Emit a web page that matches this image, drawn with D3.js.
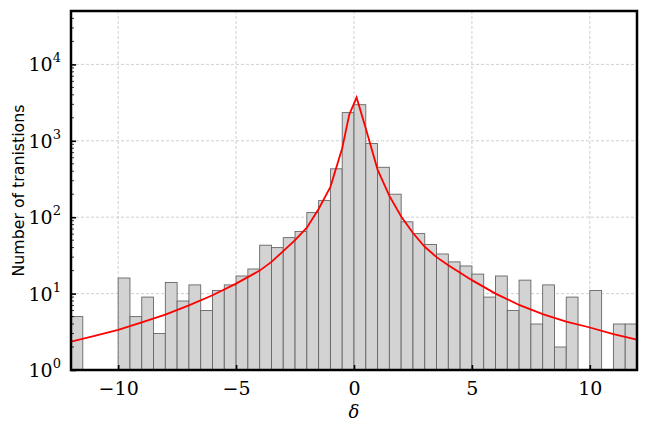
<!DOCTYPE html>
<html>
<head>
<meta charset="utf-8">
<script src="https://cdn.jsdelivr.net/npm/d3@7"></script>
<style>
  body { margin: 0; background: #fff; }
  svg { display: block; }
  .serif { font-family: "DejaVu Serif", serif; }
</style>
</head>
<body>
<svg id="chart"></svg>
<script>
// histogram bins (left edges, width 0.5) and counts
var binEdges = d3.range(-12, 12, 0.5);
var counts = [
  5, 0, 0, 0, 16, 5, 9, 3, 14, 8, 13, 6, 11, 13, 17, 21,
  43, 40, 54, 65, 115, 165, 430, 2340, 2970, 920, 450, 200,
  87, 61, 44, 33, 26, 23, 18, 9, 17, 6, 15, 4, 13, 2, 9, 0, 11, 0, 4, 4
];
// fitted curve
var fitX = [-12, -11, -10, -9, -8, -7, -6, -5, -4, -3.5, -3, -2.5, -2, -1.5, -1, -0.5, -0.2, 0.11,
  0.5, 1, 1.5, 2, 2.5, 3, 3.5, 4, 5, 6, 7, 8, 9, 10, 11, 12];
var fitY = [2.35, 2.8, 3.35, 4.2, 5.3, 7.0, 9.5, 13.5, 20, 26, 36, 50, 73, 128, 250, 800, 2200, 3700,
  1450, 420, 190, 102, 62, 41, 30, 23.5, 15, 10, 7.1, 5.4, 4.3, 3.6, 2.95, 2.5];
var xTicks = [-10, -5, 0, 5, 10];
var yTicks = [1, 10, 100, 1000, 10000];

var W = 648, H = 432;
var margin = { left: 71, right: 11, top: 11, bottom: 62 },
  width = W - margin.left - margin.right,
  height = H - margin.top - margin.bottom;

var svg = d3.select("#chart").attr("width", W).attr("height", H);

var x = d3.scaleLinear().domain([-12, 12]).range([0, width]);
var y = d3.scaleLog().domain([1, 5e4]).range([height, 0]);

svg.append("defs").append("clipPath").attr("id", "clip")
  .append("rect").attr("width", width).attr("height", height);

var g = svg.append("g").attr("transform", `translate(${margin.left},${margin.top})`);

// grid
g.append("g").selectAll("line").data(xTicks).enter().append("line")
  .attr("x1", d => x(d)).attr("x2", d => x(d))
  .attr("y1", 0).attr("y2", height)
  .attr("stroke", "#c4c4c4").attr("stroke-width", 0.8)
  .attr("stroke-dasharray", "3,2");
g.append("g").selectAll("line").data(yTicks.slice(1)).enter().append("line")
  .attr("x1", 0).attr("x2", width)
  .attr("y1", d => y(d)).attr("y2", d => y(d))
  .attr("stroke", "#c4c4c4").attr("stroke-width", 0.8)
  .attr("stroke-dasharray", "3,2");

// bars
var bins = binEdges.map((e, i) => ({ x0: e, x1: e + 0.5, n: counts[i] }))
  .filter(d => d.n > 0);
g.append("g").attr("clip-path", "url(#clip)")
  .selectAll("rect").data(bins).enter().append("rect")
  .attr("x", d => x(d.x0))
  .attr("width", d => x(d.x1) - x(d.x0))
  .attr("y", d => y(d.n))
  .attr("height", d => y(1) - y(d.n))
  .attr("fill", "#d3d3d3")
  .attr("stroke", "#666")
  .attr("stroke-width", 0.9);

// fit line
var line = d3.line().x(d => x(d[0])).y(d => y(d[1]));
g.append("path").attr("clip-path", "url(#clip)")
  .datum(fitX.map((v, i) => [v, fitY[i]]))
  .attr("d", line)
  .attr("fill", "none")
  .attr("stroke", "#ff0000")
  .attr("stroke-width", 1.8);

// x axis (ticks inward)
var xAxis = g.append("g").attr("transform", `translate(0,${height})`)
  .call(d3.axisBottom(x).tickValues(xTicks).tickSize(-5).tickPadding(12).tickFormat(d3.format("d")));
xAxis.attr("font-family", null).attr("font-size", null);
xAxis.select(".domain").remove();
xAxis.selectAll(".tick line").attr("stroke", "#000").attr("stroke-width", 1.6);
xAxis.selectAll(".tick text")
  .attr("class", "serif")
  .attr("font-size", 19).attr("fill", "#000");

// y axis minor ticks
var minor = [];
for (var p = 0; p < 5; p++) for (var k = 2; k <= 9; k++) {
  if (k * Math.pow(10, p) < 5e4) minor.push(k * Math.pow(10, p));
}
g.append("g").selectAll("line").data(minor).enter().append("line")
  .attr("x1", 0).attr("x2", 3)
  .attr("y1", d => y(d)).attr("y2", d => y(d))
  .attr("stroke", "#000").attr("stroke-width", 0.8);

// y axis major ticks and labels
var yAxis = g.append("g")
  .call(d3.axisLeft(y).tickValues(yTicks).tickSize(-5).tickFormat(""));
yAxis.select(".domain").remove();
yAxis.selectAll(".tick line").attr("stroke", "#000").attr("stroke-width", 1.6);

var ylab = g.append("g").selectAll("text").data(yTicks).enter().append("text")
  .attr("class", "serif")
  .attr("x", -10)
  .attr("y", d => y(d) + 7)
  .attr("text-anchor", "end")
  .attr("font-size", 19);
ylab.append("tspan").text("10");
ylab.append("tspan").attr("dy", -9).attr("font-size", 13)
  .text(d => Math.round(Math.log10(d)));

// frame
g.append("rect").attr("width", width).attr("height", height)
  .attr("fill", "none").attr("stroke", "#000").attr("stroke-width", 2.5);

// axis labels
svg.append("text")
  .attr("class", "serif")
  .attr("x", margin.left + x(0)).attr("y", 418)
  .attr("text-anchor", "middle")
  .attr("font-style", "italic")
  .attr("font-size", 18)
  .text("δ");

var yl = svg.append("text")
  .attr("transform", `translate(24,${margin.top + height / 2}) rotate(-90)`)
  .attr("text-anchor", "middle")
  .attr("font-family", "'DejaVu Sans', sans-serif")
  .attr("font-size", 16)
  .text("Number of tranistions");
var len = yl.node().getComputedTextLength();
yl.attr("font-size", 16 * 172 / len);
</script>
</body>
</html>
